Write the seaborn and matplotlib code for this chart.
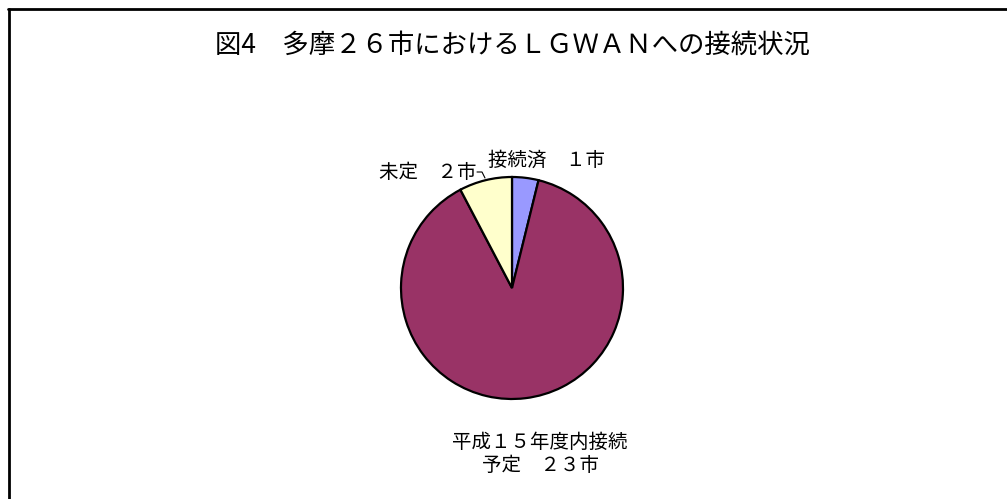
import matplotlib
matplotlib.use("Agg")
import matplotlib.pyplot as plt
from matplotlib.lines import Line2D
import seaborn as sns

# data
labels = ["接続済　１市", "平成１５年度内接続\n予定　２３市", "未定　２市"]
counts = [1, 23, 2]
colors = ["#9999FF", "#993366", "#FFFFCC"]
title = "図4　多摩２６市におけるＬＧＷＡＮへの接続状況"

sns.set_theme(style="white")
plt.rcParams['font.family'] = ['Noto Sans CJK JP', 'DejaVu Sans']
plt.rcParams['text.color'] = 'black'

W, H = 1007, 499
fig = plt.figure(figsize=(W / 100, H / 100), dpi=100)
fig.patch.set_facecolor("white")

# pie centre ~ (512, 288) px, radius ~111 px
cx, cy, r = 512, 288, 111
ax = fig.add_axes([(cx - r) / W, (H - cy - r) / H, 2 * r / W, 2 * r / H])
ax.pie(counts, colors=colors, startangle=90, counterclock=False,
       wedgeprops={'edgecolor': 'black', 'linewidth': 1.6})
ax.set_xlim(-1, 1)
ax.set_ylim(-1, 1)
ax.set_aspect('auto')
ax.axis('off')

# labels (data units of the pie)
def px(x, y):
    return (x - cx) / r, (cy - y) / r

ax.text(*px(546, 160), labels[0], ha='center', va='center', fontsize=14, color='black', clip_on=False)
ax.text(*px(428, 172), labels[2], ha='center', va='center', fontsize=14, color='black', clip_on=False)
ax.text(*px(540, 454), labels[1], ha='center', va='center', fontsize=14, color='black',
        linespacing=1.15, clip_on=False)
# small leader line for 未定
lx = [px(477, 172)[0], px(482, 172)[0], px(485, 178)[0]]
ly = [px(477, 172)[1], px(482, 172)[1], px(485, 178)[1]]
ax.plot(lx, ly, color='black', lw=0.8, clip_on=False)

fig.text(512 / W, 1 - 45 / H, title, ha='center', va='center', fontsize=19, color='black')

# chart frame (left and top edges visible)
fig.add_artist(Line2D([9 / W, 9 / W], [0, 1 - 9 / H], color='black', lw=2, transform=fig.transFigure))
fig.add_artist(Line2D([8 / W, 1], [1 - 9 / H, 1 - 9 / H], color='black', lw=2, transform=fig.transFigure))

fig.savefig("out.png", dpi=100, facecolor="white")
